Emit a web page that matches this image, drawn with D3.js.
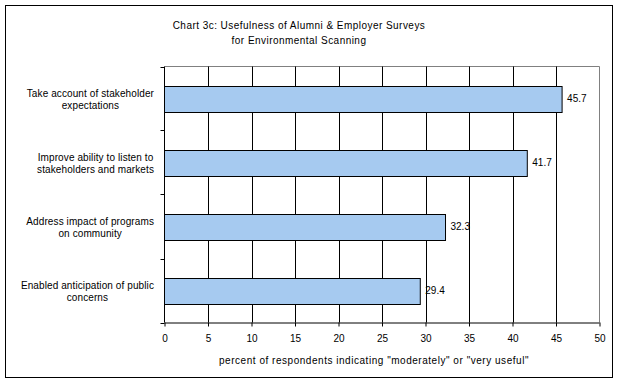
<!DOCTYPE html>
<html><head><meta charset="utf-8">
<script src="https://cdn.jsdelivr.net/npm/d3@7"></script>
<style>
html,body{margin:0;padding:0;background:#fff;}
svg{display:block;font-family:"Liberation Sans",Arial,sans-serif;}
</style></head>
<body>
<svg id="c" width="623" height="383"></svg>
<script>
const categories = [
  ["Take account of stakeholder", "expectations"],
  ["Improve ability to listen to", "stakeholders and markets"],
  ["Address impact of programs", "on community"],
  ["Enabled anticipation of public", "concerns"]
];
const values = [45.7, 41.7, 32.3, 29.4];
const xTicks = [0, 5, 10, 15, 20, 25, 30, 35, 40, 45, 50];
const titleLines = ["Chart 3c: Usefulness of Alumni & Employer Surveys", "for Environmental Scanning"];
const xAxisTitle = "percent of respondents indicating \"moderately\" or \"very useful\"";

const svg = d3.select("#c");
const fs = 10;
// outer border
svg.append("rect").attr("x",5.5).attr("y",5.5).attr("width",607).attr("height",372)
  .attr("fill","#fff").attr("stroke","#000").attr("stroke-width",1);

const L=164.5, R=599.5, T=66.5, B=322.5;
const x = d3.scaleLinear().domain([0,50]).range([L,R]);
const keys = categories.map((d,i)=>i);
const y = d3.scaleBand().domain(keys).range([T,B]).paddingInner(0.594).paddingOuter(0.297);

// plot area border (gray)
svg.append("path").attr("d",`M${L},${T}H${R}V${B}`).attr("fill","none").attr("stroke","#808080");

// gridlines
svg.append("g").selectAll("line").data(xTicks.filter(t=>t>0&&t<50)).join("line")
  .attr("x1",d=>Math.round(x(d))+0.5).attr("x2",d=>Math.round(x(d))+0.5)
  .attr("y1",T).attr("y2",B).attr("stroke","#000");

// bars
svg.append("g").selectAll("rect").data(values).join("rect")
  .attr("x",L).attr("y",(d,i)=>Math.round(y(i))+0.5)
  .attr("width",d=>x(d)-L).attr("height",Math.round(y.bandwidth()))
  .attr("fill","#a6caf0").attr("stroke","#000");

// value labels
svg.append("g").selectAll("text").data(values).join("text")
  .attr("x",d=>x(d)+5).attr("y",(d,i)=>y(i)+y.bandwidth()/2+3.5)
  .attr("font-size",fs).text(d=>d.toFixed(1));

// x axis
const xa = svg.append("g").attr("transform",`translate(0,${B})`)
  .call(d3.axisBottom(x).tickValues(xTicks).tickSize(4).tickPadding(8).tickFormat(d3.format("d")));
xa.select(".domain").attr("d",`M${L},0.5H${R}`).attr("stroke","#000");
xa.selectAll(".tick line").attr("y1",0).attr("y2",4).attr("stroke","#000");
xa.selectAll(".tick text").attr("font-size",fs).attr("font-family","Liberation Sans, Arial, sans-serif").attr("fill","#000");

// y axis
const bounds = keys.map(k=>y(k)-y.step()*y.paddingInner()/2).concat([B]);
svg.append("line").attr("x1",L).attr("x2",L).attr("y1",T).attr("y2",B).attr("stroke","#000");
svg.append("g").selectAll("line").data(bounds).join("line")
  .attr("x1",L-4).attr("x2",L).attr("y1",d=>Math.round(d)+0.5).attr("y2",d=>Math.round(d)+0.5).attr("stroke","#000");

// category labels
const labelRight = 154;
categories.forEach((lines,i)=>{
  const g = svg.append("g");
  const cy = y(i)+y.bandwidth()/2;
  const texts = lines.map((t,j)=>g.append("text").attr("font-size",fs).attr("text-anchor","middle")
    .attr("letter-spacing",0.1)
    .attr("y",cy - 2 + j*12.5).text(t));
  const w = d3.max(texts,t=>t.node().getComputedTextLength());
  texts.forEach(t=>t.attr("x",labelRight - w/2));
});

// title
svg.append("g").selectAll("text").data(titleLines).join("text")
  .attr("x",299).attr("y",(d,i)=>28.5+i*15).attr("text-anchor","middle")
  .attr("letter-spacing",0.46)
  .attr("font-size",fs).text(d=>d);

// x axis title
svg.append("text").attr("x",374).attr("y",363.5).attr("text-anchor","middle")
  .attr("letter-spacing",0.53)
  .attr("font-size",fs).text(xAxisTitle);
</script>
</body></html>
